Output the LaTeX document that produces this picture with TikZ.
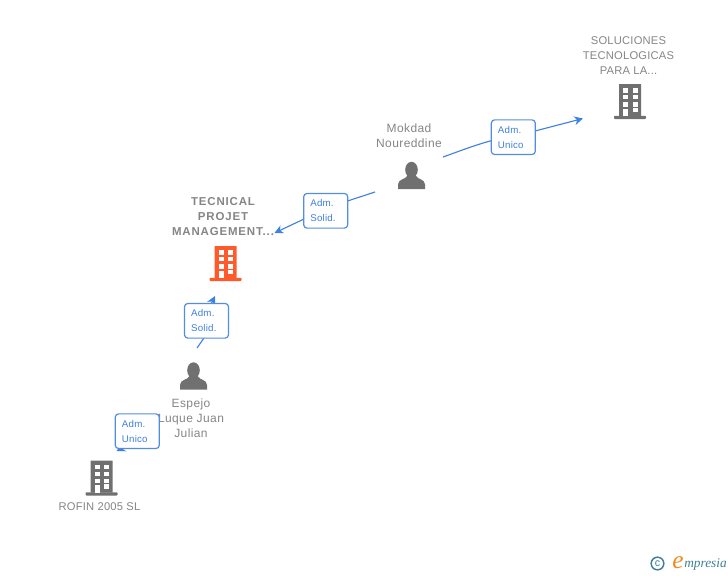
\documentclass[tikz,border=0pt]{standalone}
\usepackage{fontspec}
\setmainfont{Liberation Sans}
\newfontfamily\logofont{Liberation Serif}
\usetikzlibrary{arrows.meta}
\definecolor{lblgray}{HTML}{858585}
\definecolor{icongray}{HTML}{707070}
\definecolor{hiorange}{HTML}{FF5A2B}
\definecolor{linkblue}{HTML}{3F80E0}
\definecolor{logoteal}{HTML}{3E7F96}
\definecolor{logoorange}{HTML}{F08A1D}
\tikzset{
  x=0.75pt,y=-0.75pt,
  namelabel/.style={inner sep=0pt,align=center,text=lblgray,font=\fontsize{9pt}{11.3pt}\selectfont\addfontfeatures{LetterSpace=3.3}},
  capslabel/.style={namelabel,font=\fontsize{8.4pt}{11.3pt}\selectfont\addfontfeatures{LetterSpace=1.8}},
  boldlabel/.style={namelabel,font=\fontsize{8.6pt}{11.3pt}\selectfont\bfseries\addfontfeatures{LetterSpace=7.4}},
  rolebox/.style={draw=linkblue!90,line width=0.9pt,fill=white,rounded corners=2.5pt,minimum width=33pt,minimum height=26pt,inner sep=0pt,inner xsep=5pt,align=left,text=linkblue,text width=23pt,font=\fontsize{7.3pt}{11.3pt}\selectfont\addfontfeatures{LetterSpace=2}},
  linkline/.style={draw=linkblue,line width=0.85pt},
  linkarrow/.style={linkline,-{Stealth[length=6.5pt,width=6.5pt,inset=2pt]}},
  anchorpt/.style={inner sep=0pt,minimum size=0pt},
  pics/buildingicon/.style={code={
    \fill[#1,rounded corners=0.3pt] (-11,-17) rectangle (11,15);
    \fill[#1,rounded corners=0.6pt] (-16,14.8) rectangle (16,18);
    \foreach \wx in {-6.7,2.7}{\foreach \wy in {-12.7,-6,1.3}{
      \fill[white] (\wx,\wy) rectangle ++(5,4.3);}}
    \fill[white] (-6.7,7.5) rectangle (-1.7,15);
    \fill[white] (2.7,6.8) rectangle (7.7,11.3);
  }},
  pics/personicon/.style={code={
    \fill[#1] (0,-5.7) ellipse (6.3 and 8);
    \fill[#1] (-13.5,13.5) -- (-13.5,9) .. controls (-13.5,3.5) and (-6,4) .. (-4.5,0.5) -- (-4,-2) -- (4,-2) -- (4.5,0.5) .. controls (6,4) and (13.5,3.5) .. (13.5,9) -- (13.5,13.5) -- cycle;
  }}
}
\begin{document}
\begin{tikzpicture}
\useasboundingbox (0,0) rectangle (728,575);
% name labels
\node[capslabel] (sol) at (628.5,55.7) {SOLUCIONES\\TECNOLOGICAS\\PARA LA...};
\node[namelabel] (mok) at (409,136) {Mokdad\\Noureddine};
\node[boldlabel] (tec) at (223,216.7) {TECNICAL\\PROJET\\MANAGEMENT...};
\node[namelabel] (esp) at (191,418.5) {Espejo\\Luque Juan\\Julian};
\node[capslabel] (rof) at (99.5,507) {ROFIN 2005 SL};
% icons
\pic at (630,101) {buildingicon=icongray};
\pic at (225.5,263) {buildingicon=hiorange};
\pic at (101.5,477.5) {buildingicon=icongray};
\pic at (411.5,175.5) {personicon=icongray};
\pic at (193.5,376) {personicon=icongray};
% connector ends
\coordinate (a1) at (443,157);
\coordinate (t1) at (583,118.5);
\coordinate (a2) at (375,192);
\coordinate (t2) at (274.5,233);
\coordinate (a3) at (197,348);
\coordinate (t3) at (215,296);
\coordinate (a4) at (140,440);
\coordinate (t4) at (116.5,451);
% connectors
\draw[linkline] (a1) .. controls (460,151) and (475,145) .. (492,140.5);
\draw[linkarrow] (535,131) -- (t1);
\draw[linkline] (a2) -- (347.5,201);
\draw[linkarrow] (304,219) -- (t2);
\draw[linkline] (a3) -- (204,338);
\draw[linkarrow] (211,304) -- (t3);
\draw[linkarrow] (a4) -- (t4);
% role boxes
\node[rolebox] (r1) at (513.3,137.2) {Adm.\\Unico};
\node[rolebox] (r2) at (325.7,210.8) {Adm.\\Solid.};
\node[rolebox] (r3) at (206.5,320.8) {Adm.\\Solid.};
\node[rolebox] (r4) at (137.3,431.2) {Adm.\\Unico};
% logo
\node[anchorpt,draw=logoteal,line width=1.1pt,circle,minimum size=9.5pt,font=\fontsize{8pt}{8pt}\selectfont,text=logoteal] (lc) at (657.5,563.5) {c};
\node[anchorpt,text=logoorange,font=\logofont\itshape\fontsize{19pt}{19pt}\selectfont] (le) at (678,562.5) {e};
\node[anchorpt,anchor=west,text=logoteal,font=\logofont\itshape\fontsize{10pt}{10pt}\selectfont] (lm) at (684,564) {mpresia};
\end{tikzpicture}
\end{document}
